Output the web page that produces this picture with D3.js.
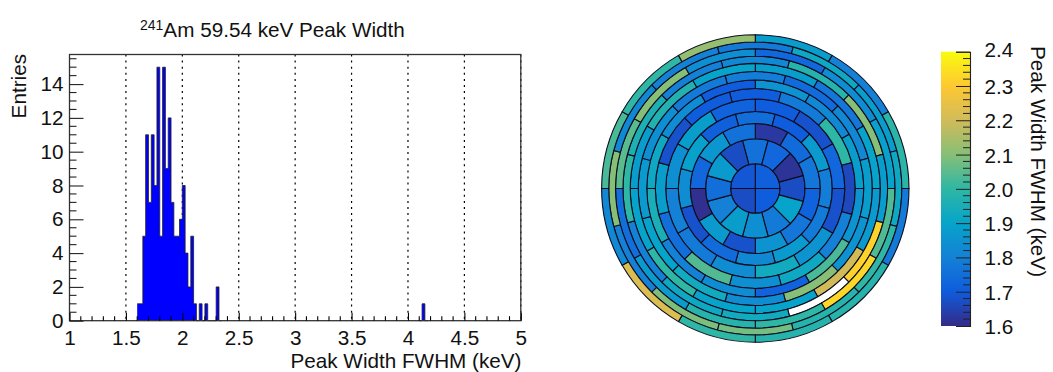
<!DOCTYPE html>
<html><head><meta charset="utf-8">
<script src="https://cdn.jsdelivr.net/npm/d3@7"></script>
<style>html,body{margin:0;padding:0;background:#fff;overflow:hidden}svg{display:block}text{font-family:"Liberation Sans",Arial,sans-serif;fill:#111}</style>
</head><body><svg id="c" width="1053" height="372"></svg>
<script>
const histBins=[1.6,1.625,1.65,1.675,1.7,1.725,1.75,1.775,1.8,1.825,1.85,1.875,1.9,1.925,1.95,1.975,2.0,2.025,2.05,2.075,2.1,2.125,2.15,2.175,2.2,2.225,2.25,2.275,2.3,2.325,4.1,4.125,4.15];
const histCounts=[1,1,5,11,7,11,8,15,5,15,9,12,7,5,5,6,8,4,2,5,1,0,1,0,1,0,0,0,2,0,0,1,0];
const binWidth=0.025;
const xTicks=[1,1.5,2,2.5,3,3.5,4,4.5,5];
const yTicks=[0,2,4,6,8,10,12,14];
const gridX=[1.5,2,2.5,3,3.5,4,4.5,5];
const colorStops=[[53,42,135],[15,92,221],[20,129,214],[6,164,202],[46,183,164],[135,191,119],[209,187,89],[254,200,50],[249,251,14]];
const colorDomain=[1.6,1.7,1.8,1.9,2.0,2.1,2.2,2.3,2.4];
const barTicks=[1.6,1.7,1.8,1.9,2.0,2.1,2.2,2.3,2.4];
const ringEdges=[0,24.7,49.7,65,77,89.5,100,108.5,117,125,132.3,139.7,146.5,153.7];
const ring0=[1.71,1.70,1.67,1.69];
const ring1=[1.76,1.73,1.62,1.67,1.90,1.78,1.84,1.88,1.80,1.75,1.87,1.67];
const ring2=[1.63,1.74,1.77,1.72,1.77,1.85,1.68,1.87,1.61,1.73,1.86,1.76];
const ring3=[1.75,1.70,1.87,1.79,1.78,1.87,1.82,1.74,1.68,1.83,1.89,1.71];
const ring4=[1.70,1.68,1.73,1.68,1.85,1.93,1.83,1.78,1.80,1.84,1.88,1.72];
const ring5=[1.70,1.78,2.00,1.66,1.80,1.92,1.84,2.04,1.75,1.88,1.68,1.70];
const ring6=[1.85,1.82,1.88,1.85,2.03,1.72,1.83,1.80,1.95,1.92,1.83,1.70];
const ring7=[1.79,1.74,1.82,1.88,1.85,2.10,1.83,1.93,1.90,1.87,1.84,1.78];
const ring8=[1.88,1.77,1.90,1.87,2.20,1.90,1.90,2.00,1.90,1.88,1.97,1.90];
const ring9=[1.82,1.98,2.10,1.88,2.32,null,1.93,1.92,1.80,2.00,1.96,1.80];
const ring10=[1.73,1.83,1.89,2.04,2.33,2.00,1.98,1.87,1.75,2.05,2.10,1.84];
const ring11=[1.78,1.92,1.88,1.92,2.00,1.98,2.08,2.09,1.80,2.10,1.82,1.80];
const ring12=[1.88,1.80,1.99,1.78,1.98,1.98,2.00,2.22,1.82,2.03,2.00,2.12];
const rings=[ring1,ring2,ring3,ring4,ring5,ring6,ring7,ring8,ring9,ring10,ring11,ring12];

const svg=d3.select("#c");
const FS=20.7;
const x=d3.scaleLinear().domain([1,5]).range([69.5,520.8]);
const y=d3.scaleLinear().domain([0,15.75]).range([320.7,54.5]);
const g=svg.append("g");
g.selectAll("line.grid").data(gridX).join("line").attr("x1",d=>x(d)).attr("x2",d=>x(d)).attr("y1",y(15.75)).attr("y2",y(0))
 .attr("stroke","#000").attr("stroke-width",1.2).attr("stroke-dasharray","2 4.1");
const pts=[];
histBins.forEach((b,i)=>{pts.push([b,histCounts[i]]);pts.push([b+binWidth,histCounts[i]]);});
const area=d3.area().x(d=>x(d[0])).y0(y(0)).y1(d=>y(d[1]));
const line=d3.line().x(d=>x(d[0])).y(d=>y(d[1]));
const groups=[pts.slice(0,60),pts.slice(60)];
groups.forEach(p=>{
 g.append("path").attr("d",area(p)).attr("fill","#0000ff");
 g.append("path").attr("d",line(p)).attr("fill","none").attr("stroke","#222").attr("stroke-width",0.8);
});
g.append("rect").attr("x",x(1)).attr("y",y(15.75)).attr("width",x(5)-x(1)).attr("height",y(0)-y(15.75)).attr("fill","none").attr("stroke","#333").attr("stroke-width",1.3);
const xAxis=d3.axisBottom(x).tickValues(xTicks).tickFormat(d3.format("~g")).tickSize(-8).tickPadding(15);
const gx=g.append("g").attr("transform",`translate(0,${y(0)})`).call(xAxis);
gx.select(".domain").remove();
gx.selectAll("line").attr("stroke","#000").attr("stroke-width",1.1);
gx.selectAll("text").attr("font-size",FS).attr("dy","0.32em").attr("y",17.5).style("fill","#111");
const xMinor=d3.range(10,51).map(d=>d/10).filter(d=>!xTicks.includes(d));
g.selectAll("line.xm").data(xMinor).join("line").attr("x1",d=>x(d)).attr("x2",d=>x(d)).attr("y1",y(0)).attr("y2",y(0)-4.5).attr("stroke","#000").attr("stroke-width",1.1);
const yAxis=d3.axisLeft(y).tickValues(yTicks).tickSize(-14).tickPadding(6);
const gy=g.append("g").attr("transform",`translate(${x(1)},0)`).call(yAxis);
gy.select(".domain").remove();
gy.selectAll("line").attr("stroke","#222").attr("stroke-width",1.1);
gy.selectAll("text").attr("font-size",FS).attr("x",-6).style("fill","#111");
const yMinor=d3.range(0,32).map(d=>d/2).filter(d=>!yTicks.includes(d));
g.selectAll("line.ym").data(yMinor).join("line").attr("x1",x(1)).attr("x2",x(1)+7).attr("y1",d=>y(d)).attr("y2",d=>y(d)).attr("stroke","#222").attr("stroke-width",1.1);
const t=g.append("text").attr("x",140).attr("y",36.5).attr("font-size",FS);
t.append("tspan").attr("font-size",14).attr("dy",-7).text("241");
t.append("tspan").attr("dy",7).text("Am 59.54 keV Peak Width");
g.append("text").attr("x",521.5).attr("y",367.5).attr("text-anchor","end").attr("font-size",FS).text("Peak Width FWHM (keV)");
g.append("text").attr("transform","translate(26,54) rotate(-90)").attr("text-anchor","end").attr("font-size",FS).text("Entries");

const color=d3.scaleLinear().domain(colorDomain).range(colorStops.map(c=>d3.rgb(c[0],c[1],c[2]))).interpolate(d3.interpolateRgb);
const rad=d3.scaleLinear().domain([0,153.7]).range([0,153.7]);
const p=svg.append("g").attr("transform","translate(755.3,188.5)");
const arc=d3.arc();
const deg=Math.PI/180;
function seg(v,a0,a1,r0,r1){
 p.append("path").attr("d",arc({innerRadius:rad(r0),outerRadius:rad(r1),startAngle:a0*deg,endAngle:a1*deg}))
  .attr("fill",v==null?"#fff":color(v)).attr("stroke","#0d0d20").attr("stroke-width",1.1);
}
ring0.forEach((v,i)=>seg(v,i*90,(i+1)*90,ringEdges[0],ringEdges[1]));
rings.forEach((vals,k)=>{
 const n=k+1, off=n%2?-15:0;
 vals.forEach((v,i)=>seg(v,off+i*30,off+(i+1)*30,ringEdges[n],ringEdges[n+1]));
});

const cb=d3.scaleLinear().domain([1.6,2.4]).range([326,51.7]);
const defs=svg.append("defs");
const grad=defs.append("linearGradient").attr("id","gr").attr("x1",0).attr("x2",0).attr("y1",1).attr("y2",0);
colorDomain.forEach((d,i)=>grad.append("stop").attr("offset",i/8).attr("stop-color",color(d)));
svg.append("rect").attr("x",941).attr("y",cb(2.4)).attr("width",29).attr("height",cb(1.6)-cb(2.4)).attr("fill","url(#gr)");
const cAxis=d3.axisRight(cb).tickValues(barTicks).tickFormat(d3.format(".1f")).tickSize(-14).tickPadding(15);
const gc=svg.append("g").attr("transform","translate(970,0)").call(cAxis);
gc.select(".domain").attr("stroke","#222").attr("stroke-width",1.1);
gc.selectAll("line").attr("stroke","#222").attr("stroke-width",1);
gc.selectAll("text").attr("font-size",FS).attr("x",14.5).attr("dy",d=>d===2.4?"0.22em":"0.36em").style("fill","#111");
const cMinor=d3.range(0,41).map(d=>1.6+d*0.02).filter(d=>Math.round(d*1000)%100!==0);
svg.selectAll("line.cm").data(cMinor).join("line").attr("x1",963).attr("x2",970).attr("y1",d=>cb(d)).attr("y2",d=>cb(d)).attr("stroke","#222").attr("stroke-width",1);
svg.append("text").attr("transform","translate(1031,46) rotate(90)").attr("font-size",FS).text("Peak Width FWHM (keV)");
</script></body></html>
